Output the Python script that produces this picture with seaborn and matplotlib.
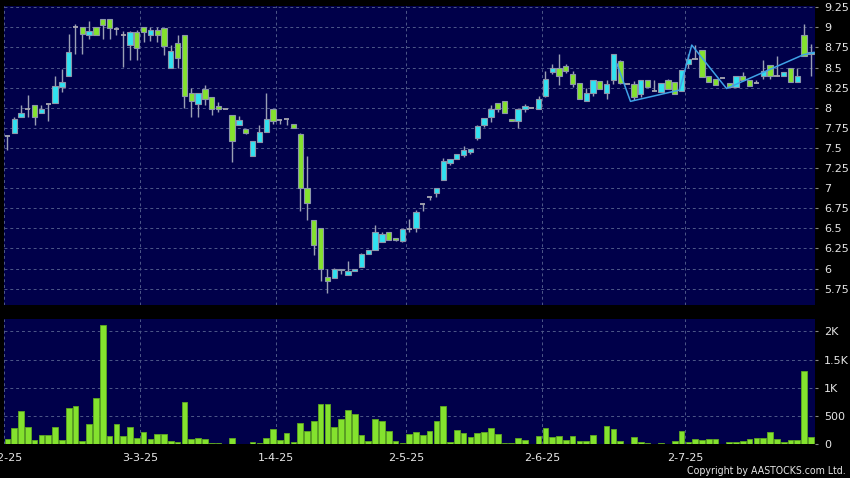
import numpy as np
import pandas as pd
import matplotlib
matplotlib.use("Agg")
import matplotlib.pyplot as plt
import seaborn as sns

# ---------------- data ----------------
opens = [7.65, 7.69, 7.89, 7.99, 8.04, 7.94, 8.05, 8.06, 8.26, 8.40,
         9.00, 9.00, 8.91, 9.00, 9.10, 9.10, 8.98, 8.90, 8.78, 8.94,
         9.00, 8.91, 8.97, 8.99, 8.50, 8.80, 8.90, 8.18, 8.05, 8.23,
         8.13, 8.02, 7.99, 7.91, 7.79, 7.74, 7.40, 7.58, 7.70, 7.99,
         7.85, 7.86, 7.80, 7.68, 7.00, 6.60, 6.50, 5.89, 5.88, 6.00,
         5.92, 5.97, 6.02, 6.18, 6.23, 6.33, 6.45, 6.38, 6.34, 6.49,
         6.50, 6.80, 6.89, 6.94, 7.10, 7.31, 7.36, 7.41, 7.45, 7.63,
         7.78, 7.89, 8.06, 8.09, 7.86, 7.84, 7.99, 8.00, 7.99, 8.15,
         8.44, 8.49, 8.52, 8.42, 8.31, 8.08, 8.19, 8.33, 8.18, 8.35,
         8.58, 8.30, 8.30, 8.17, 8.35, 8.21, 8.20, 8.35, 8.32, 8.21,
         8.55, 8.61, 8.72, 8.40, 8.36, 8.37, 8.31, 8.26, 8.40, 8.35,
         8.31, 8.40, 8.53, 8.40, 8.40, 8.50, 8.32, 8.91, 8.67]
highs = [7.66, 7.88, 8.04, 8.16, 8.04, 8.03, 8.05, 8.40, 8.48, 8.92,
         9.04, 9.00, 9.08, 9.01, 9.10, 9.10, 9.01, 8.95, 8.96, 8.97,
         9.00, 9.00, 9.00, 8.99, 8.78, 8.90, 8.90, 8.25, 8.18, 8.28,
         8.13, 8.07, 7.99, 7.91, 7.90, 7.74, 7.59, 7.79, 8.19, 7.99,
         7.86, 7.86, 7.80, 7.69, 7.40, 6.60, 6.50, 6.00, 6.01, 6.00,
         6.09, 6.00, 6.20, 6.23, 6.54, 6.45, 6.45, 6.38, 6.49, 6.62,
         6.73, 6.80, 6.89, 7.00, 7.38, 7.36, 7.42, 7.53, 7.49, 7.78,
         7.87, 8.04, 8.06, 8.09, 7.86, 7.99, 8.05, 8.00, 8.15, 8.46,
         8.55, 8.67, 8.55, 8.46, 8.31, 8.25, 8.35, 8.33, 8.35, 8.67,
         8.60, 8.30, 8.33, 8.35, 8.35, 8.35, 8.31, 8.36, 8.32, 8.47,
         8.67, 8.78, 8.72, 8.40, 8.36, 8.37, 8.31, 8.39, 8.44, 8.35,
         8.35, 8.59, 8.53, 8.64, 8.44, 8.50, 8.50, 9.04, 8.79]
lows = [7.47, 7.69, 7.88, 7.89, 7.79, 7.93, 7.83, 8.06, 8.20, 8.40,
        8.67, 8.67, 8.85, 8.90, 8.86, 8.85, 8.91, 8.51, 8.60, 8.59,
        8.82, 8.83, 8.82, 8.66, 8.50, 8.50, 8.00, 7.89, 7.89, 8.04,
        7.91, 7.95, 7.99, 7.33, 7.79, 7.68, 7.40, 7.57, 7.70, 7.80,
        7.80, 7.79, 7.75, 6.71, 6.60, 6.17, 5.85, 5.70, 5.88, 5.93,
        5.92, 5.97, 6.02, 6.18, 6.23, 6.33, 6.36, 6.34, 6.33, 6.45,
        6.46, 6.72, 6.85, 6.89, 7.10, 7.29, 7.36, 7.39, 7.42, 7.60,
        7.76, 7.82, 7.95, 7.94, 7.84, 7.75, 7.95, 8.00, 7.99, 8.14,
        8.42, 8.28, 8.43, 8.26, 8.11, 8.08, 8.15, 8.23, 8.11, 8.29,
        8.29, 8.30, 8.10, 8.14, 8.26, 8.21, 8.20, 8.23, 8.17, 8.21,
        8.50, 8.61, 8.38, 8.32, 8.28, 8.37, 8.26, 8.26, 8.35, 8.27,
        8.31, 8.36, 8.36, 8.40, 8.40, 8.32, 8.32, 8.65, 8.40]
closes = [7.65, 7.86, 7.94, 7.99, 7.88, 7.99, 8.05, 8.27, 8.32, 8.70,
          9.00, 8.92, 8.96, 8.90, 9.03, 8.99, 8.98, 8.90, 8.94, 8.74,
          8.94, 8.97, 8.90, 8.77, 8.71, 8.62, 8.15, 8.08, 8.18, 8.11,
          7.99, 7.99, 7.99, 7.59, 7.85, 7.69, 7.59, 7.70, 7.86, 7.84,
          7.85, 7.86, 7.75, 7.00, 6.81, 6.29, 6.00, 5.85, 6.00, 5.98,
          5.97, 6.00, 6.18, 6.23, 6.45, 6.43, 6.36, 6.36, 6.49, 6.49,
          6.70, 6.80, 6.89, 7.00, 7.34, 7.36, 7.42, 7.48, 7.49, 7.77,
          7.87, 7.99, 7.99, 7.94, 7.84, 7.99, 8.02, 8.00, 8.11, 8.36,
          8.49, 8.39, 8.46, 8.30, 8.11, 8.19, 8.35, 8.23, 8.29, 8.67,
          8.31, 8.30, 8.13, 8.35, 8.26, 8.21, 8.31, 8.23, 8.17, 8.47,
          8.61, 8.61, 8.38, 8.32, 8.28, 8.37, 8.26, 8.39, 8.35, 8.27,
          8.31, 8.46, 8.40, 8.40, 8.44, 8.32, 8.39, 8.65, 8.70]
volumes = [95, 286, 589, 303, 71, 167, 167, 298, 71, 631,
           672, 60, 357, 809, 2106, 137, 351, 137, 303, 113,
           214, 83, 184, 173, 60, 30, 744, 83, 113, 95,
           12, 24, 3, 107, 5, 2, 42, 24, 113, 274,
           77, 202, 42, 381, 226, 405, 702, 702, 303, 446,
           607, 524, 167, 60, 440, 417, 226, 60, 12, 184,
           214, 165, 235, 400, 676, 35, 241, 188, 129, 188,
           206, 276, 176, 10, 10, 100, 76, 3, 135, 288,
           118, 147, 70, 147, 59, 47, 165, 3, 318, 270,
           53, 3, 123, 41, 24, 5, 18, 5, 59, 235,
           41, 94, 71, 94, 82, 2, 41, 41, 53, 82,
           100, 100, 206, 88, 41, 65, 76, 1294, 129]

# month-start trading-day indices and their labels
month_start_idx = [0, 20, 40, 59, 79, 100]
month_labels = ["3-2-25", "3-3-25", "1-4-25", "2-5-25", "2-6-25", "2-7-25"]

# overlay trend line (position in trading-day units, price)
line_idx = [89.5, 91.5, 98.7, 100.5, 105.6, 116.9, 118.5]
line_val = [8.55, 8.08, 8.22, 8.78, 8.24, 8.66, 8.69]

price_ticks = [5.75, 6, 6.25, 6.5, 6.75, 7, 7.25, 7.5, 7.75, 8, 8.25, 8.5, 8.75, 9, 9.25]
price_tick_labels = ["5.75", "6", "6.25", "6.5", "6.75", "7", "7.25", "7.5", "7.75",
                     "8", "8.25", "8.5", "8.75", "9", "9.25"]
vol_ticks = [0, 500, 1000, 1500, 2000]
vol_tick_labels = ["0", "500", "1K", "1.5K", "2K"]

# ---------------- styling ----------------
BG_FIG = "#000000"
BG_AX = "#00004A"
UP = "#30E2F0"
DOWN = "#84E22E"
EDGE = "#8C96AA"
WICK = "#9AA0B4"
DOJI = "#A8A8B0"
GRID = "#4E5888"
TXT = "#E6E6E6"
LINE = "#3FA2E6"

sns.set_style("dark")
plt.rcParams["font.family"] = ["DejaVu Sans"]

fig = plt.figure(figsize=(8.5, 4.78), dpi=100, facecolor=BG_FIG)
W, H = 850, 478
L, R = 4, 815
axp = fig.add_axes([L / W, 1 - 305 / H, (R - L) / W, (305 - 6) / H])
axv = fig.add_axes([L / W, 1 - 444 / H, (R - L) / W, (444 - 319) / H])

df = pd.DataFrame({"idx": np.arange(len(opens)), "open": opens, "high": highs,
                   "low": lows, "close": closes, "volume": volumes})
df["up"] = df["close"] > df["open"]
df["doji"] = np.isclose(df["close"], df["open"])

for ax in (axp, axv):
    ax.set_facecolor(BG_AX)
    for s in ax.spines.values():
        s.set_visible(False)

BODY_W = 0.78
# wicks
axp.vlines(df["idx"], df["low"], df["high"], color=WICK, lw=1.0, zorder=2)
# bodies
body = df[~df["doji"]]
bcol = np.where(body["up"], UP, DOWN)
axp.bar(body["idx"], (body["close"] - body["open"]).abs(),
        bottom=np.minimum(body["open"], body["close"]), width=BODY_W,
        color=bcol, edgecolor=EDGE, linewidth=0.8, zorder=3)
dj = df[df["doji"]]
axp.hlines(dj["open"], dj["idx"] - BODY_W / 2, dj["idx"] + BODY_W / 2,
           color=DOJI, lw=1.3, zorder=3)

# overlay line
sns.lineplot(x=line_idx, y=line_val, ax=axp, color=LINE, lw=1.1, sort=False,
             zorder=4, legend=False)

# volume bars
sns.barplot(data=df, x="idx", y="volume", ax=axv, native_scale=True,
            color=DOWN, saturation=1, width=0.83, edgecolor="#5FA820",
            linewidth=0.6, zorder=3)

tick_pos = [i - 0.5 for i in month_start_idx]
xlim = (-0.45, 118.6)
for ax in (axp, axv):
    ax.set_xlim(*xlim)
    ax.set_xticks(tick_pos)
    ax.set_xlabel("")
    ax.set_ylabel("")
    ax.grid(True, color=GRID, linestyle=(0, (3, 3)), linewidth=0.7)
    ax.set_axisbelow(True)
    ax.yaxis.tick_right()
    ax.tick_params(axis="y", which="both", left=False, right=True, length=2.5,
                   width=0.8, color="#888888", pad=4, labelcolor=TXT, labelsize=8)

axp.set_ylim(5.547, 9.266)
axp.set_yticks(price_ticks)
axp.set_yticklabels(price_tick_labels)
axp.tick_params(axis="x", length=0, labelbottom=False)

axv.set_ylim(0, 2220)
axv.set_yticks(vol_ticks)
axv.set_yticklabels(vol_tick_labels)
axv.set_xticklabels(month_labels)
axv.tick_params(axis="x", length=3, width=0.8, color="#AAAAAA", pad=3.5,
                labelcolor=TXT, labelsize=8)

fig.text(846 / W, 1 - 471.5 / H, "Copyright by AASTOCKS.com Ltd.", ha="right",
         va="center", color=TXT, fontsize=7.6, fontstretch="condensed")

fig.savefig("out.png", dpi=100, facecolor=BG_FIG)
